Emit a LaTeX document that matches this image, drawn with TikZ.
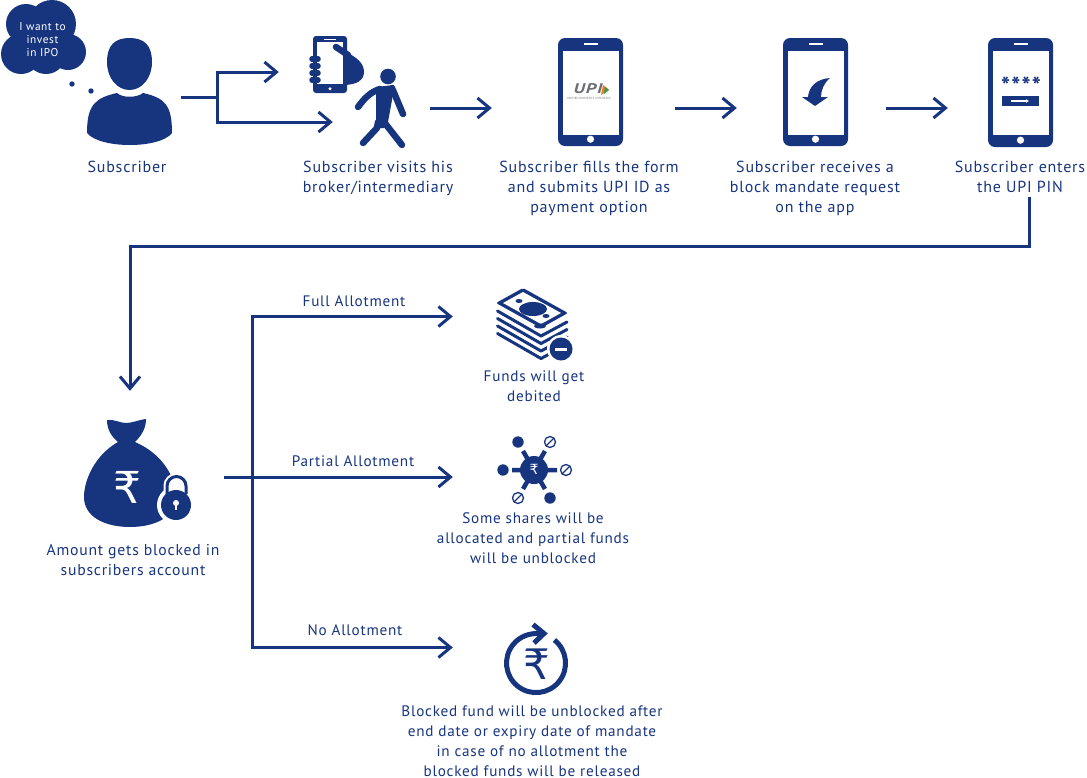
\documentclass[tikz,border=0pt]{standalone}
\usepackage{fontspec}
\setmainfont[LetterSpace=5]{PT Sans}
\newfontfamily\symfont{DejaVu Sans}
\definecolor{upinavy}{HTML}{17357F}
\definecolor{upigrey}{HTML}{6D6E71}
\definecolor{upiorange}{HTML}{E8792B}
\definecolor{upigreen}{HTML}{3B9A47}
\usetikzlibrary{arrows.meta, calc}
\tikzset{
  phonebox/.style={
    fill=upinavy, rounded corners=7pt, inner sep=0pt,
    minimum width=65pt, minimum height=108pt,
  },
  screenbox/.style={
    fill=white, inner sep=0pt,
    minimum width=56pt, minimum height=84pt,
  },
  iconbox/.style={inner sep=0pt},
  caption/.style={
    text=upinavy, align=center, inner sep=0pt,
    font=\fontsize{16}{20}\selectfont,
  },
  lowcaption/.style={caption, font=\fontsize{15.2}{20}\selectfont},
  flow/.style={
    draw=upinavy, line width=3pt,
    -{Straight Barb[length=12pt,width=20pt]},
  },
  trunk/.style={draw=upinavy, line width=3pt},
  limb/.style={draw=upinavy, line width=6.5pt, line cap=round, line join=round},
  bandot/.style={draw=upinavy, fill=white, line width=1.3pt},
}

\begin{document}
\begin{tikzpicture}[x=1pt, y=-1pt]
  \useasboundingbox (0,0) rectangle (1087,777);

  % Thought cloud
  \fill[upinavy] (26,24) circle[radius=20pt] (52,24) circle[radius=24pt]
    (21,54) circle[radius=20pt] (46,54) circle[radius=20pt]
    (68,52) circle[radius=18pt];
  \fill[upinavy] (72,84) circle[radius=2.7pt] (91,91) circle[radius=2.7pt];
  \node[caption, text=white, font=\fontsize{11.3}{13}\selectfont] (thought)
    at (42.5,40) {I want to\\invest\\in IPO};

  % Subscriber
  \node[iconbox, minimum width=85pt, minimum height=108pt] (subscriber) at (129.5,92) {};
  \fill[upinavy] (107,62) .. controls (107,45) and (115,38) .. (129.5,38)
    .. controls (144,38) and (152,45) .. (152,62)
    .. controls (152,78) and (142,90) .. (129.5,90)
    .. controls (117,90) and (107,78) .. (107,62) -- cycle;
  \fill[upinavy] (87,133) .. controls (87,105) and (95,98) .. (117,93)
    .. controls (122,98) and (137,98) .. (143,93)
    .. controls (165,98) and (172,105) .. (172,133)
    .. controls (160,149) and (100,149) .. (87,133) -- cycle;
  \node[caption] (subscribertext) at (127,167) {Subscriber};

  % Hand with phone
  \node[iconbox, minimum width=55pt, minimum height=57pt] (handphone) at (336.5,64.5) {};
  \fill[upinavy, rounded corners=3pt] (313,36) rectangle (347,93);
  \fill[white] (317,42) rectangle (343,84);
  \fill[white] (324,38.6) rectangle (336,39.8);
  \fill[white] (330,88.7) circle[radius=1.6pt];
  \foreach \fy in {59,66,73,80}
    \draw[upinavy, line width=5.5pt, line cap=round] (312,\fy) -- (318,\fy);
  \draw[upinavy, line width=6.5pt, line cap=round] (336,47) -- (348,55);
  \fill[upinavy] (343,51) .. controls (358,57) and (364,64) .. (364,72)
    .. controls (364,80) and (357,85) .. (343,85) -- cycle;

  % Walking man
  \node[iconbox, minimum width=48pt, minimum height=80pt] (walker) at (382,108) {};
  \fill[upinavy] (388,76.5) circle[radius=7.8pt];
  \fill[upinavy] (376,87) -- (394,85) -- (392,100) -- (388,122) -- (384,128) -- (376,128) -- (376,110) -- cycle;
  \draw[limb] (392,88) -- (403,114);
  \draw[limb] (380,89) .. controls (370,92) and (364,99) .. (358,107);
  \draw[limb] (378,122) -- (377,128) -- (363,143);
  \draw[limb] (384,122) -- (402,145);
  \node[caption] (walkertext) at (378,178) {Subscriber visits his\\broker/intermediary};

  % Phones
  \node[phonebox] (uform) at (590.5,92) {};
  \node[phonebox] (umandate) at (815.5,92) {};
  \node[phonebox, minimum height=109pt] (upin) at (1020.5,92.5) {};
  \foreach \pname in {uform,umandate,upin} {
    \node[screenbox] (\pname screen) at ($(\pname.center)+(0,-0.5pt)$) {};
    \fill[white] ($(\pname.north)+(-7pt,-5pt)$) rectangle ($(\pname.north)+(7pt,-7pt)$);
    \fill[white] ($(\pname.south)+(0,7pt)$) circle[radius=3.6pt];
  }

  % UPI logo
  \node[iconbox, text=upigrey, xscale=1.35, font=\fontsize{14}{14}\selectfont\bfseries\itshape] (upilogo)
    at (588,88.5) {UPI};
  \fill[upiorange] (603,85) -- (609,90) -- (601,95) -- cycle;
  \fill[upigreen] (605,86.5) -- (609,90) -- (604,94) -- cycle;
  \node[iconbox, text=upigrey, font=\fontsize{3}{3}\selectfont] (upiline)
    at (589,98) {UNIFIED PAYMENTS INTERFACE};

  % Mandate arrow
  \fill[upinavy] (830,78) .. controls (817,79) and (809,86) .. (808,97)
    -- (802,97) -- (815,106) -- (828,97) -- (821,97)
    .. controls (821,90) and (824,83) .. (830,78) -- cycle;

  % PIN screen
  \node[iconbox, text=upinavy, font=\fontsize{24}{24}\selectfont\bfseries] (pinstars)
    at (1021,86) {****};
  \node[iconbox, fill=upinavy, minimum width=37pt, minimum height=10pt] (pinbar) at (1020.5,101) {};
  \draw[white, line width=1.5pt, -{Latex[length=3pt,width=4pt]}] (1011,101) -- (1029,101);

  \node[caption] (formtext) at (589,188) {Subscriber fills the form\\and submits UPI ID as\\payment option};
  \node[caption] (mandatetext) at (815,188) {Subscriber receives a\\block mandate request\\on the app};
  \node[caption] (pintext) at (1020,177) {Subscriber enters\\the UPI PIN};

  % Money bag
  \node[iconbox, minimum width=92pt, minimum height=108pt] (bag) at (130,473) {};
  \fill[upinavy] (118,442) .. controls (95,455) and (84,480) .. (84,497)
    .. controls (84,517) and (105,527) .. (130,527)
    .. controls (155,527) and (176,517) .. (176,497)
    .. controls (176,480) and (165,455) .. (135,442)
    .. controls (142,435) and (146,428) .. (146,419)
    .. controls (138,420) and (132,423) .. (126,423)
    .. controls (120,423) and (114,419) .. (107,420)
    .. controls (107,430) and (112,437) .. (118,442) -- cycle;
  \node[iconbox, text=white, font=\symfont\fontsize{44}{44}\selectfont] (bagrupee) at (127,487) {₹};
  \fill[white] (176,505) circle[radius=19pt];
  \draw[white, fill=white, line width=7pt] (167,494) -- (167,486) arc[start angle=180, end angle=0, radius=9.5pt] -- (186,494);
  \draw[upinavy, line width=3pt] (167,494) -- (167,486) arc[start angle=180, end angle=0, radius=9.5pt] -- (186,494);
  \fill[upinavy] (176,505) circle[radius=15pt];
  \fill[white] (176,503) circle[radius=3pt];
  \fill[white] (174.8,503) rectangle (177.2,510);
  \node[caption, font=\fontsize{15.7}{20}\selectfont] (bagtext) at (133,560) {Amount gets blocked in\\subscribers account};

  % Money stack
  \node[iconbox, minimum width=72pt, minimum height=72pt] (stack) at (532,324) {};
  \foreach \sy in {0,7.5,15,22.5}
    \draw[upinavy, line width=3pt, line cap=round, line join=round]
      (497.5,311+\sy) -- (541,336+\sy) -- (567,322+\sy);
  \fill[upinavy, rounded corners=2pt] (496,303) -- (523,288) -- (568,313) -- (541,328) -- cycle;
  \fill[white] (503,303) -- (523,292) -- (561,313) -- (541,324) -- cycle;
  \fill[upinavy] (533,309) ellipse[x radius=14pt, y radius=7pt];
  \fill[upinavy] (519,301) ellipse[x radius=3.5pt, y radius=2pt];
  \fill[upinavy] (546,316) ellipse[x radius=3.5pt, y radius=2pt];
  \fill[upinavy] (540,326) ellipse[x radius=6pt, y radius=2.5pt];
  \fill[white] (561,349) circle[radius=14pt];
  \fill[upinavy] (561,349) circle[radius=11.5pt];
  \fill[white] (555,347.5) rectangle (567,350.5);
  \node[lowcaption] (stacktext) at (534,386) {Funds will get\\debited};

  % Share network
  \node[iconbox, minimum width=76pt, minimum height=70pt] (network) at (534,470) {};
  \draw[upinavy, line width=4.5pt] (512,470) -- (557,470)
    (523,451) -- (545,489) (545,451) -- (523,489);
  \fill[upinavy] (534,470) circle[radius=14pt];
  \fill[upinavy] (518,442) circle[radius=5.7pt] (503,470) circle[radius=5.7pt]
    (550,498) circle[radius=5.7pt];
  \foreach \bx/\by in {550/442, 566/470, 518/498} {
    \draw[bandot] (\bx,\by) circle[radius=5.5pt];
    \draw[upinavy, line width=1.3pt] (\bx-3.9,\by+3.9) -- (\bx+3.9,\by-3.9);
  }
  \node[iconbox, text=white, font=\symfont\fontsize{14}{14}\selectfont] (netrupee) at (534,469) {₹};
  \node[lowcaption] (networktext) at (533,538) {Some shares will be\\allocated and partial funds\\will be unblocked};

  % Refund ring
  \node[iconbox, minimum width=64pt, minimum height=70pt] (refund) at (536,660) {};
  \draw[upinavy, line width=5pt] (554.4,640) arc[start angle=51.5, end angle=-280, radius=29.5pt];
  \draw[upinavy, line width=5pt] (533,624.5) -- (544,633.5) -- (534,643);
  \node[iconbox, text=upinavy, font=\symfont\fontsize{42}{42}\selectfont] (refundrupee) at (536.5,664) {₹};
  \node[lowcaption] (refundtext) at (532,741.5) {Blocked fund will be unblocked after\\end date or expiry date of mandate\\in case of no allotment the\\blocked funds will be released};

  % Branch points
  \coordinate (split) at (217,97);
  \coordinate (turn) at (130,246);
  \coordinate (fork) at (252,477);

  % Flow: subscriber to broker
  \draw[trunk, shorten <=9pt] ([yshift=-5pt]subscriber.east) -- (split);
  \draw[flow, shorten >=30pt] (split) |- ([yshift=-7.5pt]handphone.west);
  \draw[flow, shorten >=25pt] (split) |- ([yshift=-14pt]walker.west);

  % Flow: along the top row
  \draw[flow, shorten <=24pt, shorten >=66pt] (walker.east) -- ([yshift=-16pt]uform.west);
  \draw[flow, shorten <=52pt, shorten >=46pt] ([yshift=-16pt]uform.east) -- ([yshift=-16pt]umandate.west);
  \draw[flow, shorten <=38pt, shorten >=40pt] ([yshift=-16pt]umandate.east) -- ([yshift=-15.5pt]upin.west);

  % Flow: PIN to blocked amount
  \draw[flow, shorten >=28pt] ([xshift=9pt,yshift=-4pt]pintext.south) |- (turn) -- (bag.north);

  % Flow: allotment branches
  \draw[flow, shorten <=48pt, shorten >=43pt] ([yshift=-4pt]bag.east) -- (network.west |- fork);
  \draw[flow, shorten >=43pt] ([yshift=1.5pt]fork) |- ([yshift=7.5pt]stack.west);
  \draw[flow, shorten >=51pt] ([yshift=-1.5pt]fork) |- ([yshift=12.5pt]refund.west);

  \node[lowcaption] (fulllabel) at (354,301) {Full Allotment};
  \node[lowcaption] (partiallabel) at (353,461) {Partial Allotment};
  \node[lowcaption] (nolabel) at (355,630) {No Allotment};
\end{tikzpicture}
\end{document}
